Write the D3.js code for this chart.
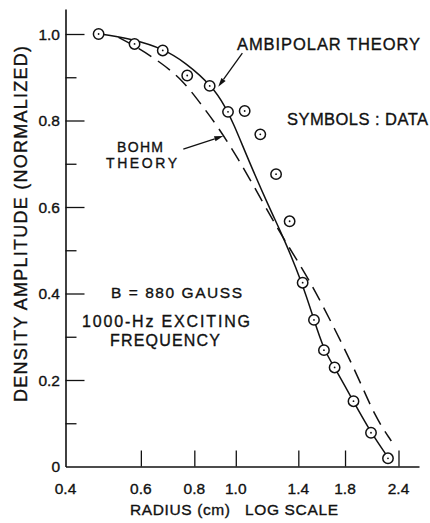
<!DOCTYPE html>
<html>
<head>
<meta charset="utf-8">
<script src="https://cdn.jsdelivr.net/npm/d3@7"></script>
<style>
  html, body { margin: 0; padding: 0; background: #fff; }
  svg { display: block; }
  text { font-family: "Liberation Sans", Arial, sans-serif; fill: #111; stroke: #111; stroke-width: 0.35px; }
</style>
</head>
<body>
<svg id="chart" width="430" height="523"></svg>
<script>
// Measured density amplitude (normalized) vs. radius (cm)
const radius = [0.478, 0.580, 0.675, 0.770, 0.869, 0.959, 1.049, 1.141, 1.242, 1.336, 1.433, 1.523, 1.607, 1.702, 1.884, 2.070, 2.268];
const amplitude = [1.000, 0.977, 0.962, 0.904, 0.880, 0.820, 0.822, 0.768, 0.676, 0.567, 0.425, 0.339, 0.269, 0.229, 0.151, 0.078, 0.019];

// Ambipolar theory curve (solid)
const ambipolarR = [0.491, 0.580, 0.674, 0.762, 0.886, 0.945, 0.987, 1.070, 1.204, 1.291, 1.430, 1.523, 1.607, 1.702, 1.882, 2.070, 2.272];
const ambipolarA = [0.999, 0.987, 0.966, 0.935, 0.877, 0.831, 0.794, 0.709, 0.593, 0.531, 0.424, 0.339, 0.269, 0.229, 0.151, 0.078, 0.020];

// Bohm theory curve (dashed)
const bohmR = [0.532, 0.592, 0.670, 0.750, 0.826, 0.896, 1.008, 1.160, 1.284, 1.478, 1.708, 1.932, 2.118, 2.309];
const bohmA = [0.992, 0.968, 0.933, 0.894, 0.840, 0.794, 0.716, 0.609, 0.531, 0.436, 0.316, 0.207, 0.114, 0.059];

// Axis ticks
const xTicks = [0.4, 0.6, 0.8, 1.0, 1.4, 1.8, 2.4];
const xTickLabels = ["0.4", "0.6", "0.8", "1.0", "1.4", "1.8", "2.4"];
const yMajor = [0, 0.2, 0.4, 0.6, 0.8, 1.0];
const yMajorLabels = ["0", "0.2", "0.4", "0.6", "0.8", "1.0"];
const yMinor = [0.1, 0.3, 0.5, 0.7, 0.9];

const svg = d3.select("#chart");
svg.append("rect").attr("width", 430).attr("height", 523).attr("fill", "#fff");

const x = d3.scaleLog().domain([0.4, 2.68]).range([65.5, 419]);
const y = d3.scaleLinear().domain([0, 1.058]).range([466.5, 466.5 - 1.058 * 432.5]);

const ink = "#111";

// Y axis with inward ticks
svg.append("g").attr("transform", `translate(${x(0.4)},0)`)
  .call(d3.axisRight(y).tickValues(yMajor.filter(v => v > 0)).tickSize(19).tickSizeOuter(0).tickFormat(""));
svg.append("g").attr("transform", `translate(${x(0.4)},0)`)
  .call(d3.axisRight(y).tickValues(yMinor).tickSize(11).tickSizeOuter(0).tickFormat(""))
  .select(".domain").remove();

// X axis with inward ticks
svg.append("g").attr("transform", `translate(0,${y(0)})`)
  .call(d3.axisTop(x).tickValues(xTicks.filter(v => v > 0.4)).tickSize(16).tickSizeOuter(0).tickFormat(""));

svg.selectAll(".domain").attr("stroke", ink).attr("stroke-width", 1.6);
svg.selectAll(".tick line").attr("stroke", ink).attr("stroke-width", 1.3);

// Tick labels
svg.append("g").selectAll("text").data(yMajor).join("text")
  .attr("x", 60).attr("y", d => y(d) + 5.5)
  .attr("text-anchor", "end").attr("font-size", 15.5)
  .text((d, i) => yMajorLabels[i]);

svg.append("g").selectAll("text").data(xTicks).join("text")
  .attr("x", d => x(d)).attr("y", 493.5)
  .attr("text-anchor", "middle").attr("font-size", 15.5)
  .text((d, i) => xTickLabels[i]);

// Axis titles
svg.append("text")
  .attr("transform", "translate(26.5,224) rotate(-90)")
  .attr("text-anchor", "middle").attr("font-size", 18)
  .attr("textLength", 356).attr("lengthAdjust", "spacing")
  .text("DENSITY AMPLITUDE (NORMALIZED)");

svg.append("text").attr("x", 130).attr("y", 515).attr("font-size", 15.5)
  .attr("textLength", 100).attr("lengthAdjust", "spacing").text("RADIUS (cm)");
svg.append("text").attr("x", 245).attr("y", 515).attr("font-size", 15.5)
  .attr("textLength", 93).attr("lengthAdjust", "spacing").text("LOG SCALE");

// Theory curves
const line = d3.line().x(d => x(d[0])).y(d => y(d[1])).curve(d3.curveBasis);

svg.append("path")
  .datum(ambipolarR.map((r, i) => [r, ambipolarA[i]]))
  .attr("d", line).attr("fill", "none").attr("stroke", ink).attr("stroke-width", 1.5);

svg.append("path")
  .datum(bohmR.map((r, i) => [r, bohmA[i]]))
  .attr("d", line).attr("fill", "none").attr("stroke", ink).attr("stroke-width", 1.5)
  .attr("stroke-dasharray", "15,8");

// Data symbols: open circle with a centre dot
const pts = svg.append("g").selectAll("g").data(radius.map((r, i) => [r, amplitude[i]])).join("g")
  .attr("transform", d => `translate(${x(d[0])},${y(d[1])})`);
pts.append("circle").attr("r", 5.2).attr("fill", "#fff").attr("stroke", ink).attr("stroke-width", 1.5);
pts.append("circle").attr("r", 0.9).attr("fill", ink);

// Annotation arrows
function arrow(from, to) {
  const x1 = x(from[0]), y1 = y(from[1]), x2 = x(to[0]), y2 = y(to[1]);
  const a = Math.atan2(y2 - y1, x2 - x1);
  const L = 9, W = 2.6;
  const bx = x2 - L * Math.cos(a), by = y2 - L * Math.sin(a);
  svg.append("line").attr("x1", x1).attr("y1", y1).attr("x2", bx).attr("y2", by)
    .attr("stroke", ink).attr("stroke-width", 1.3);
  svg.append("path")
    .attr("d", `M${x2},${y2}L${bx - W * Math.sin(a)},${by + W * Math.cos(a)}L${bx + W * Math.sin(a)},${by - W * Math.cos(a)}Z`)
    .attr("fill", ink);
}
arrow([1.036, 0.956], [0.910, 0.878]);
arrow([0.754, 0.734], [0.935, 0.764]);

// Annotation text blocks (each line: text, x, baseline, width)
const notes = [
  { fs: 16.5, lines: [{ t: "AMBIPOLAR THEORY", x: 237, y: 50, w: 183 }] },
  { fs: 16.5, lines: [{ t: "SYMBOLS : DATA", x: 287, y: 125, w: 141 }] },
  { fs: 14, lines: [{ t: "BOHM", x: 117, y: 151.5, w: 46 }, { t: "THEORY", x: 106, y: 168, w: 71 }] },
  { fs: 15.5, lines: [{ t: "B = 880 GAUSS", x: 111, y: 297.5, w: 131 }] },
  { fs: 16, lines: [{ t: "1000-Hz EXCITING", x: 82, y: 327, w: 168 }, { t: "FREQUENCY", x: 110, y: 346, w: 110 }] }
];
const noteText = svg.append("g").selectAll("text").data(notes).join("text")
  .attr("font-size", d => d.fs);
noteText.selectAll("tspan").data(d => d.lines).join("tspan")
  .attr("x", d => d.x).attr("y", d => d.y)
  .attr("textLength", d => d.w).attr("lengthAdjust", "spacing")
  .text(d => d.t);
</script>
</body>
</html>
